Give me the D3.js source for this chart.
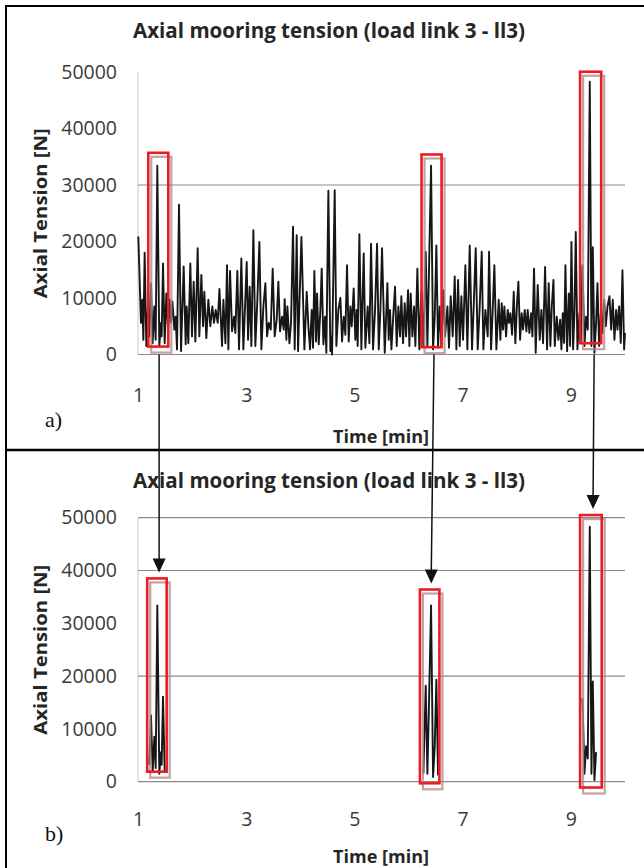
<!DOCTYPE html>
<html>
<head>
<meta charset="utf-8">
<script src="https://cdn.jsdelivr.net/npm/d3@7"></script>
<style>
  body { margin: 0; background: #fff; }
  svg { display: block; }
  .tick text { font-family: "Open Sans", sans-serif; font-size: 19.5px; fill: #3a3a3a; }
  .title { font-family: "Open Sans", sans-serif; font-weight: bold; font-size: 22px; fill: #262626; }
  .axis-label { font-family: "Open Sans", sans-serif; font-weight: bold; font-size: 17.5px; fill: #262626; }
  .panel-tag { font-family: "Liberation Serif", serif; font-size: 22px; fill: #111; }
</style>
</head>
<body>
<div id="vis"></div>
<script>

// Data ----------------------------------------------------------------------

var titleText = "Axial mooring tension (load link 3 - ll3)";
var xTicks = [1, 3, 5, 7, 9];
var yTicks = [0, 10000, 20000, 30000, 40000, 50000];
var gridA = [0, 30000];
var gridB = [0, 20000, 40000, 50000];

// time [min]
var timeMin = [
  1.006, 1.055, 1.080, 1.099, 1.123, 1.154, 1.185, 1.209, 1.240, 1.271,
  1.302, 1.327, 1.357, 1.394, 1.425, 1.437, 1.462, 1.493, 1.524, 1.555,
  1.585, 1.610, 1.635, 1.672, 1.696, 1.721, 1.758, 1.795, 1.844, 1.881,
  1.900, 1.930, 1.967, 1.998, 2.029, 2.060, 2.103, 2.134, 2.171, 2.202,
  2.226, 2.263, 2.300, 2.337, 2.374, 2.405, 2.436, 2.473, 2.505, 2.553,
  2.578, 2.615, 2.645, 2.670, 2.701, 2.738, 2.775, 2.799, 2.836, 2.867,
  2.910, 2.947, 2.978, 3.009, 3.034, 3.064, 3.095, 3.132, 3.169, 3.206,
  3.243, 3.280, 3.317, 3.354, 3.385, 3.416, 3.453, 3.489, 3.526, 3.563,
  3.594, 3.625, 3.662, 3.693, 3.711, 3.742, 3.761, 3.798, 3.828, 3.865,
  3.896, 3.933, 3.958, 4.020, 4.075, 4.118, 4.149, 4.179, 4.210, 4.235,
  4.259, 4.290, 4.309, 4.340, 4.370, 4.395, 4.426, 4.457, 4.481, 4.518,
  4.555, 4.570, 4.586, 4.635, 4.666, 4.703, 4.740, 4.771, 4.802, 4.832,
  4.863, 4.894, 4.925, 4.950, 4.986, 5.017, 5.042, 5.060, 5.091, 5.128,
  5.171, 5.202, 5.245, 5.276, 5.307, 5.344, 5.381, 5.418, 5.449, 5.479,
  5.510, 5.560, 5.609, 5.633, 5.658, 5.683, 5.720, 5.750, 5.781, 5.812,
  5.843, 5.867, 5.898, 5.929, 5.954, 5.991, 6.015, 6.040, 6.071, 6.102,
  6.126, 6.163, 6.200, 6.237, 6.274, 6.317, 6.348, 6.373, 6.416, 6.453,
  6.484, 6.514, 6.545, 6.576, 6.607, 6.644, 6.675, 6.718, 6.748, 6.779,
  6.816, 6.853, 6.884, 6.915, 6.946, 6.976, 7.007, 7.050, 7.087, 7.130,
  7.173, 7.204, 7.241, 7.278, 7.315, 7.352, 7.383, 7.420, 7.463, 7.488,
  7.525, 7.555, 7.586, 7.623, 7.666, 7.697, 7.722, 7.746, 7.771, 7.802,
  7.833, 7.857, 7.882, 7.913, 7.944, 7.974, 8.005, 8.030, 8.061, 8.091,
  8.116, 8.147, 8.178, 8.202, 8.233, 8.264, 8.289, 8.319, 8.350, 8.387,
  8.424, 8.455, 8.486, 8.523, 8.560, 8.590, 8.621, 8.647, 8.678, 8.702,
  8.739, 8.770, 8.801, 8.825, 8.850, 8.875, 8.899, 8.930, 8.961, 8.986,
  9.010, 9.041, 9.066, 9.090, 9.121, 9.158, 9.183, 9.214, 9.251, 9.281,
  9.312, 9.349, 9.380, 9.405, 9.435, 9.466, 9.491, 9.522, 9.553, 9.583,
  9.614, 9.645, 9.676, 9.713, 9.744, 9.774, 9.805, 9.836, 9.861, 9.891,
  9.922, 9.953, 9.984, 10.000
];

// axial tension [N]
var tensionN = [
  20900, 5600, 9700, 2600, 18000, 1500, 8500, 3200, 12600, 2000,
  8500, 2600, 33400, 1500, 5600, 3200, 16100, 2000, 10800, 4400,
  9700, 5600, 9400, 4400, 6700, 900, 26500, 600, 15600, 1800,
  8500, 2000, 16100, 3200, 12900, 2300, 18800, 3200, 14100, 5000,
  11100, 2900, 9700, 5000, 8500, 5600, 7900, 5600, 11600, 1500,
  9700, 2000, 15800, 900, 14800, 4100, 6700, 3800, 14800, 900,
  17000, 900, 8500, 16400, 2600, 12000, 1500, 22000, 1500, 9700,
  19900, 900, 8500, 12600, 3200, 5600, 4400, 15200, 3200, 6150,
  12900, 4100, 6700, 4400, 9800, 2600, 8500, 2000, 5600, 22600,
  900, 21100, 600, 20800, 900, 11100, 5000, 900, 7900, 1200,
  14800, 2300, 10800, 1800, 7900, 15200, 1800, 6700, 300, 29000,
  600, 3000, 0, 29100, 1500, 7900, 10000, 2300, 6700, 3500,
  15800, 2300, 8500, 5000, 11700, 2600, 7900, 1500, 21300, 900,
  17900, 1200, 8500, 2000, 19600, 900, 7900, 19600, 900, 7900,
  18800, 300, 12600, 2600, 7900, 900, 7300, 12000, 1500, 8500,
  3200, 10300, 2000, 9100, 3200, 11400, 1500, 10800, 3200, 8500,
  1500, 15200, 900, 11400, 1500, 18200, 1500, 12600, 33400, 900,
  6700, 19300, 1200, 8500, 1500, 11400, 3200, 8500, 1200, 10300,
  3200, 13800, 900, 13200, 1500, 10300, 2600, 15800, 900, 19300,
  900, 8500, 18800, 900, 8500, 18200, 900, 7900, 3200, 18200,
  900, 7900, 15800, 900, 9700, 2600, 9100, 4400, 8500, 3200,
  7900, 5600, 7300, 3500, 11100, 2000, 9100, 12900, 2600, 7300,
  4400, 7900, 4100, 7900, 3800, 7300, 3200, 15200, 300, 12300,
  2600, 7900, 2000, 15500, 900, 12600, 1500, 8500, 13200, 1500,
  6700, 2600, 6150, 900, 7300, 2050, 15800, 600, 10800, 1500,
  19900, 900, 7300, 21700, 900, 7300, 2050, 15800, 1500, 6700,
  4400, 48300, 1500, 19000, 300, 5600, 12600, 1500, 7300, 3800,
  9700, 5000, 8500, 10300, 4400, 9700, 2600, 7900, 4400, 8500,
  2050, 14900, 900, 3800
];

// time windows kept in panel b
var windowStart = [1.20, 6.27, 9.19];
var windowEnd = [1.50, 6.55, 9.47];

// highlight boxes [t0, t1, low, high]
var boxesA = [[1.19, 1.56, 1400, 35700], [6.24, 6.61, 1300, 35400], [9.17, 9.56, 2000, 50050]];
var boxesB = [[1.17, 1.53, 1900, 38500], [6.21, 6.57, -300, 36400], [9.17, 9.57, -1100, 50500]];

// arrows from panel a to panel b (time at start, time at tip)
var arrowFrom = [1.39, 6.47, 9.43];
var arrowTo = [1.39, 6.42, 9.41];


// Setup ---------------------------------------------------------------------

var width = 644, height = 868;

var svg = d3.select("#vis").append("svg")
  .attr("width", width)
  .attr("height", height);

svg.append("rect")
  .attr("width", width)
  .attr("height", height)
  .attr("fill", "#fff");

var x = d3.scaleLinear().domain([1, 10]).range([138, 625]);
var yA = d3.scaleLinear().domain([0, 50000]).range([354.5, 72]);
var yB = d3.scaleLinear().domain([0, 50000]).range([781.7, 517.7]);

var series = timeMin.map(function(t, i) { return {t: t, v: tensionN[i]}; });

function inWindow(d) {
  for (var i = 0; i < windowStart.length; i++) {
    if (d.t >= windowStart[i] && d.t <= windowEnd[i]) return true;
  }
  return false;
}


// Panels --------------------------------------------------------------------

function drawPanel(y, grid, cfg) {

  var g = svg.append("g");

  // title
  g.append("text")
    .attr("class", "title")
    .attr("x", 329)
    .attr("y", cfg.titleY)
    .attr("text-anchor", "middle")
    .attr("textLength", 392)
    .attr("lengthAdjust", "spacingAndGlyphs")
    .text(titleText);

  // left axis line
  g.append("line")
    .attr("x1", x(1)).attr("x2", x(1))
    .attr("y1", y(50000)).attr("y2", y(0))
    .attr("stroke", "#d2d2d2")
    .attr("stroke-width", 1.2);

  // gridlines
  g.selectAll(".grid")
    .data(grid)
    .enter().append("line")
    .attr("class", "grid")
    .attr("x1", x(1)).attr("x2", x(10))
    .attr("y1", y).attr("y2", y)
    .attr("stroke", "#8a8a8a")
    .attr("stroke-width", 1.2);

  // axes
  g.append("g")
    .attr("transform", "translate(" + x(1) + ",0)")
    .call(d3.axisLeft(y).tickValues(yTicks).tickSize(0).tickPadding(21).tickFormat(d3.format("d")))
    .call(function(a) { a.select(".domain").remove(); });

  g.append("g")
    .attr("transform", "translate(0," + y(0) + ")")
    .call(d3.axisBottom(x).tickValues(xTicks).tickSize(0).tickPadding(cfg.xPad))
    .call(function(a) { a.select(".domain").remove(); });

  // axis labels
  g.append("text")
    .attr("class", "axis-label")
    .attr("transform", "translate(47," + y(25000) + ") rotate(-90)")
    .attr("text-anchor", "middle")
    .attr("textLength", 170)
    .attr("lengthAdjust", "spacingAndGlyphs")
    .text("Axial Tension [N]");

  g.append("text")
    .attr("class", "axis-label")
    .attr("x", 381)
    .attr("y", cfg.xLabelY)
    .attr("text-anchor", "middle")
    .attr("textLength", 96)
    .attr("lengthAdjust", "spacingAndGlyphs")
    .text("Time [min]");

  g.append("text")
    .attr("class", "panel-tag")
    .attr("x", 45)
    .attr("y", cfg.tagY)
    .text(cfg.tag);

  // series
  var line = d3.line()
    .defined(cfg.defined)
    .x(function(d) { return x(d.t); })
    .y(function(d) { return y(d.v); });

  g.append("path")
    .datum(series)
    .attr("fill", "none")
    .attr("stroke", "#161616")
    .attr("stroke-width", 1.9)
    .attr("stroke-linejoin", "round")
    .attr("d", line);

  // highlight boxes: faint shadow then red frame
  g.selectAll(".shadow")
    .data(cfg.boxes)
    .enter().append("rect")
    .attr("class", "shadow")
    .attr("x", function(d) { return x(d[0]) + 3; })
    .attr("y", function(d) { return y(d[3]) + 4; })
    .attr("width", function(d) { return x(d[1]) - x(d[0]); })
    .attr("height", function(d) { return y(d[2]) - y(d[3]) + 2; })
    .attr("fill", "none")
    .attr("stroke", "#b48a8a")
    .attr("stroke-opacity", 0.8)
    .attr("stroke-width", 2.2);

  g.selectAll(".box")
    .data(cfg.boxes)
    .enter().append("rect")
    .attr("class", "box")
    .attr("x", function(d) { return x(d[0]); })
    .attr("y", function(d) { return y(d[3]); })
    .attr("width", function(d) { return x(d[1]) - x(d[0]); })
    .attr("height", function(d) { return y(d[2]) - y(d[3]); })
    .attr("fill", "none")
    .attr("stroke", "#ec1c24")
    .attr("stroke-width", 2.6);
}

drawPanel(yA, gridA, {
  titleY: 38, xPad: 34, xLabelY: 443, tagY: 427, tag: "a)",
  boxes: boxesA, defined: function() { return true; }
});

drawPanel(yB, gridB, {
  titleY: 488, xPad: 30, xLabelY: 863, tagY: 841, tag: "b)",
  boxes: boxesB, defined: inWindow
});


// Frame and arrows ----------------------------------------------------------

svg.append("line")
  .attr("x1", 6).attr("x2", 6).attr("y1", 5).attr("y2", height)
  .attr("stroke", "#000").attr("stroke-width", 2);

svg.append("line")
  .attr("x1", 5).attr("x2", width).attr("y1", 6).attr("y2", 6)
  .attr("stroke", "#000").attr("stroke-width", 2);

svg.append("line")
  .attr("x1", 5).attr("x2", width).attr("y1", 450).attr("y2", 450)
  .attr("stroke", "#000").attr("stroke-width", 2.6);

arrowFrom.forEach(function(t0, i) {
  var x0 = x(t0), y0 = yA(0),
      x1 = x(arrowTo[i]), y1 = yB(boxesB[i][3]) - 6;
  svg.append("line")
    .attr("x1", x0).attr("y1", y0)
    .attr("x2", x1).attr("y2", y1 - 12)
    .attr("stroke", "#111").attr("stroke-width", 1.5);
  svg.append("path")
    .attr("d", "M" + (x1 - 6.5) + "," + (y1 - 14) + "L" + (x1 + 6.5) + "," + (y1 - 14) + "L" + x1 + "," + y1 + "Z")
    .attr("fill", "#111");
});

</script>
</body>
</html>
